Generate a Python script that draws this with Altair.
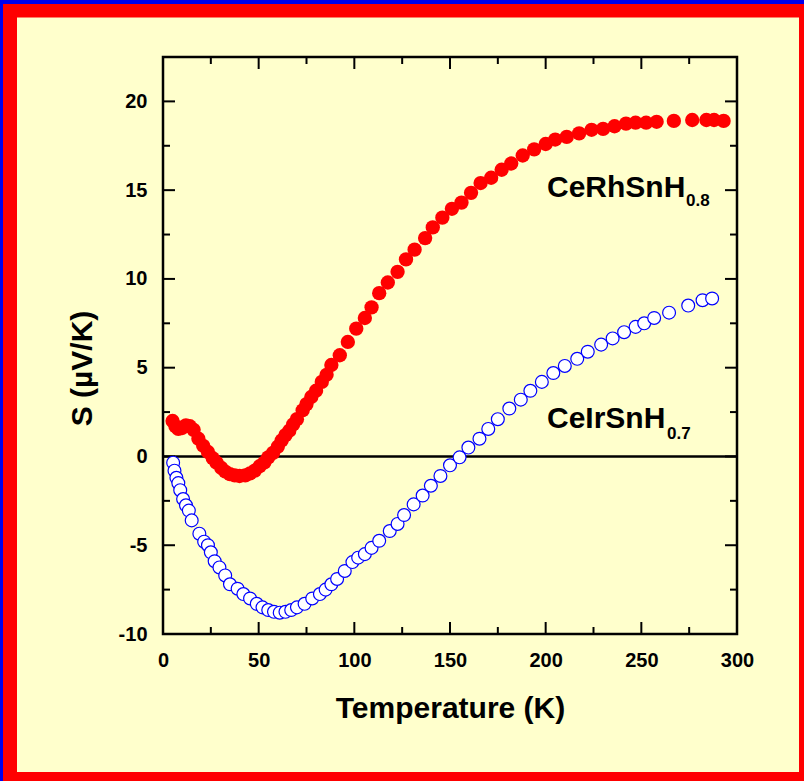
import altair as alt
import pandas as pd

# ---------------- data ----------------
red_T = [5, 6.5, 8, 10, 12, 14, 16, 18.5, 21, 23.5, 26, 28, 30.5, 32.5, 35, 37.5,
         40, 43, 45.5, 48, 50.5, 53, 55, 57.5, 60, 62, 64, 66, 68, 70, 73, 75,
         77.5, 80, 83, 85.5, 88, 92.4, 96.6, 101, 105.5, 109, 113, 117.5, 122.6,
         127, 131.5, 137, 141, 146, 151, 156, 161, 166, 171.5, 177, 182, 188,
         194, 200, 205, 211, 217.5, 224, 230, 236, 242, 247, 252.5, 258, 267,
         276.6, 284, 288, 293]
red_S = [2.0, 1.7, 1.55, 1.6, 1.75, 1.7, 1.5, 1.0, 0.6, 0.25, -0.1, -0.35, -0.65,
         -0.85, -1.0, -1.07, -1.1, -1.07, -0.95, -0.8, -0.55, -0.33, -0.05, 0.2,
         0.55, 0.9, 1.2, 1.45, 1.8, 2.1, 2.6, 2.95, 3.35, 3.7, 4.2, 4.6, 5.15,
         5.7, 6.45, 7.2, 7.8, 8.4, 9.2, 9.8, 10.4, 11.1, 11.65, 12.3, 12.9, 13.45,
         13.95, 14.3, 14.85, 15.4, 15.7, 16.15, 16.5, 16.95, 17.3, 17.6, 17.85,
         18.0, 18.2, 18.4, 18.45, 18.6, 18.75, 18.8, 18.8, 18.85, 18.9, 18.95,
         18.95, 18.95, 18.9]

blue_T = [5.3, 6, 7, 8, 9, 10.5, 12, 13.5, 15, 19, 21.5, 23.5, 25, 27, 29.5, 32.5,
          35, 39, 42, 45.5, 49, 52, 55, 58, 61, 64, 67, 70, 74, 78, 82, 85, 88,
          91, 95, 99, 102, 105.5, 109, 113, 118.5, 122.6, 126, 131, 135.7, 140,
          145, 150, 155, 159.6, 165.4, 170, 175, 181, 187, 192, 198, 204, 210,
          216.5, 222, 229, 235, 241, 247, 251.5, 256.7, 264.5, 274.5, 282, 287]
blue_S = [-0.35, -0.8, -1.2, -1.5, -1.9, -2.4, -2.75, -3.05, -3.6, -4.35, -4.8,
          -5.0, -5.4, -5.9, -6.25, -6.7, -7.2, -7.45, -7.75, -8.0, -8.3, -8.5,
          -8.65, -8.75, -8.8, -8.75, -8.65, -8.5, -8.3, -8.0, -7.75, -7.5, -7.2,
          -6.9, -6.45, -5.95, -5.7, -5.5, -5.15, -4.75, -4.2, -3.8, -3.3, -2.7,
          -2.2, -1.65, -1.1, -0.5, -0.05, 0.5, 1.0, 1.55, 2.1, 2.7, 3.2, 3.7, 4.2,
          4.7, 5.1, 5.5, 5.9, 6.3, 6.65, 7.0, 7.3, 7.5, 7.8, 8.1, 8.5, 8.8, 8.9]

series_names = ["CeRhSnH", "CeIrSnH"]
series_subs = ["0.8", "0.7"]

x_labels = [0, 50, 100, 150, 200, 250, 300]
x_major = [50, 100, 150, 200, 250]
x_minor = [25, 75, 125, 175, 225, 275]
y_labels = [-10, -5, 0, 5, 10, 15, 20]
y_major = [-5, 0, 5, 10, 15, 20]
y_minor = [-7.5, -2.5, 2.5, 7.5, 12.5, 17.5]
zero_level = [0]

x_title = "Temperature (K)"
y_title = "S (µV/K)"

# ---------------- chart ----------------
FONT = "Liberation Sans"
W, H = 574, 577
MAJOR, MINOR = 12, 7

red_df = pd.DataFrame({"T": red_T, "S": red_S})
blue_df = pd.DataFrame({"T": blue_T, "S": blue_S})
one = pd.DataFrame({"k": [0]})

xs = alt.Scale(domain=[0, 300], nice=False, zero=False)
ys = alt.Scale(domain=[-10, 22.5], nice=False, zero=False)

x_label_axis = alt.Axis(orient="bottom", values=x_labels, ticks=False, tickSize=0,
                        domain=False, grid=False, labelPadding=16, labelFont=FONT,
                        labelFontSize=20, labelFontWeight="bold", labelColor="black",
                        labelFlush=False, labelOverlap=False, title=x_title,
                        titleFont=FONT, titleFontSize=30, titleFontWeight="bold",
                        titleColor="black", titleX=W / 2, titleY=83,
                        titleAlign="center", titleBaseline="alphabetic", zindex=1)
y_label_axis = alt.Axis(orient="left", values=y_labels, ticks=False, tickSize=0,
                        domain=False, grid=False, labelPadding=16, labelFont=FONT,
                        labelFontSize=20, labelFontWeight="bold", labelColor="black",
                        labelOverlap=False, labelExpr="'' + datum.value",
                        title=y_title, titleFont=FONT, titleFontSize=30,
                        titleFontWeight="bold", titleColor="black", titleAngle=270,
                        titleX=-72, titleY=311, titleAlign="center",
                        titleBaseline="alphabetic", zindex=1)

border_red = alt.Chart(one).mark_rect(filled=False, stroke="#FF0000", strokeWidth=14).encode(
    x=alt.value(10 - 163), x2=alt.value(806 - 163),
    y=alt.value(10.5 - 57), y2=alt.value(779 - 57))
border_blue = alt.Chart(one).mark_rect(filled=False, stroke="#0000EE", strokeWidth=8).encode(
    x=alt.value(-1 - 163), x2=alt.value(900 - 163),
    y=alt.value(0 - 57), y2=alt.value(900 - 57))


# inward tick marks, positioned through the shared scales
def x_ticks(values, length, top):
    y0, y1 = (0, length) if top else (H, H - length)
    return alt.Chart(pd.DataFrame({"T": values})).mark_rule(
        color="black", strokeWidth=2).encode(
        x=alt.X("T:Q", scale=xs, axis=None), y=alt.value(y0), y2=alt.value(y1))


def y_ticks(values, length, right):
    x0, x1 = (W, W - length) if right else (0, length)
    return alt.Chart(pd.DataFrame({"S": values})).mark_rule(
        color="black", strokeWidth=2).encode(
        y=alt.Y("S:Q", scale=ys, axis=None), x=alt.value(x0), x2=alt.value(x1))


ticks = [
    x_ticks(x_major, MAJOR, False), x_ticks(x_minor, MINOR, False),
    x_ticks(x_major, MAJOR, True), x_ticks(x_minor, MINOR, True),
    y_ticks(y_major, MAJOR, False), y_ticks(y_minor, MINOR, False),
    y_ticks(y_major, MAJOR, True), y_ticks(y_minor, MINOR, True),
]

zero_rule = alt.Chart(pd.DataFrame({"S": zero_level})).mark_rule(
    color="black", strokeWidth=2.5).encode(y=alt.Y("S:Q", scale=ys, axis=None))

red = alt.Chart(red_df).mark_circle(size=205, color="#FF0000", opacity=1).encode(
    x=alt.X("T:Q", scale=xs, axis=x_label_axis),
    y=alt.Y("S:Q", scale=ys, axis=y_label_axis))

blue = alt.Chart(blue_df).mark_circle(size=165, fill="white", stroke="#0000FF",
                                      strokeWidth=1.2, opacity=1).encode(
    x=alt.X("T:Q", scale=xs, axis=None),
    y=alt.Y("S:Q", scale=ys, axis=None))


def label(text, x, y, size):
    return alt.Chart(pd.DataFrame({"label": [text]})).mark_text(
        align="left", baseline="alphabetic", font=FONT, fontSize=size,
        fontWeight="bold", color="black").encode(
        x=alt.value(x), y=alt.value(y), text="label:N")


lab1 = label(series_names[0], 384, 140, 30)
sub1 = label(series_subs[0], 523, 149, 17)
lab2 = label(series_names[1], 384, 371, 30)
sub2 = label(series_subs[1], 504, 382, 17)

chart = alt.layer(
    border_red, border_blue, *ticks, zero_rule, red, blue,
    lab1, sub1, lab2, sub2
).resolve_axis(x="independent", y="independent").properties(
    width=W, height=H,
    autosize=alt.AutoSizeParams(type="none"),
    padding={"left": 163, "top": 57, "right": 67, "bottom": 147},
    background="#FFFFCC",
).configure_view(stroke="black", strokeWidth=2.5)

chart.save("out.html", embed_options={"renderer": "svg", "actions": False})
